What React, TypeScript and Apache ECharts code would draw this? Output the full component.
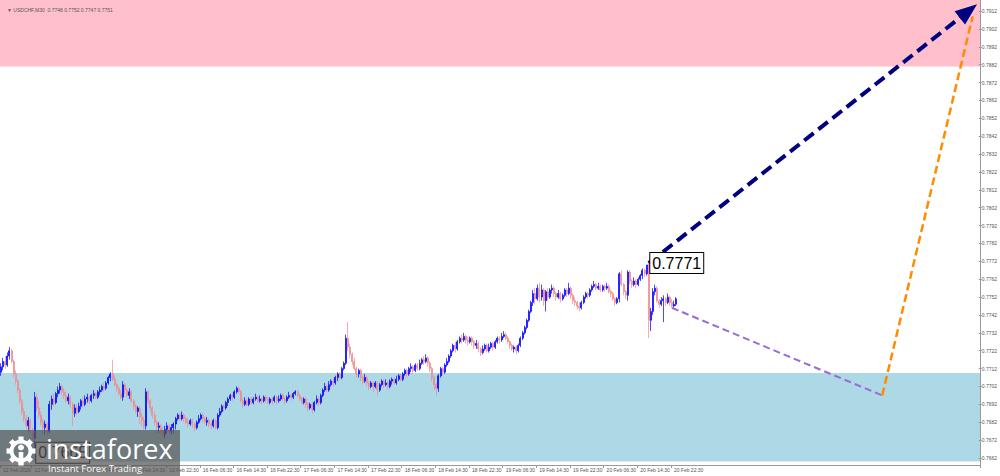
import React, { useEffect, useRef } from "react";
import * as echarts from "echarts";

// ---- categories (M30 bars) ----
const YEAR = "2026";
const DAYS = ["12 Feb", "13 Feb", "16 Feb", "17 Feb", "18 Feb", "19 Feb", "20 Feb"];
const FIRST_DAY_START_SLOT = 14; // 12 Feb starts at 07:00
const FUTURE_SLOTS = 144;
const SYMBOL = "USDCHF,M30";

// ---- candles: [open, close, low, high] in 1/10000 ----
const feb12 = [
  [7710, 7713, 7708, 7715], [7713, 7716, 7711, 7718], [7716, 7714, 7712, 7719], [7714, 7719, 7713, 7721],
  [7719, 7722, 7717, 7724], [7722, 7716, 7715, 7723], [7716, 7709, 7707, 7717], [7709, 7705, 7703, 7711],
  [7705, 7700, 7698, 7706], [7700, 7694, 7692, 7701], [7694, 7688, 7686, 7695], [7688, 7684, 7682, 7690],
  [7684, 7680, 7678, 7686], [7680, 7683, 7677, 7685], [7683, 7677, 7675, 7684], [7677, 7673, 7670, 7679],
  [7673, 7696, 7665, 7699], [7696, 7690, 7688, 7698], [7690, 7686, 7684, 7694], [7686, 7682, 7680, 7688],
  [7682, 7679, 7676, 7684], [7679, 7681, 7675, 7683], [7681, 7677, 7674, 7682], [7677, 7692, 7676, 7694],
  [7692, 7695, 7689, 7697], [7695, 7693, 7691, 7698], [7693, 7698, 7692, 7699], [7698, 7700, 7696, 7702],
  [7700, 7702, 7698, 7704], [7702, 7699, 7697, 7703], [7699, 7697, 7695, 7701], [7697, 7694, 7693, 7699],
  [7694, 7696, 7692, 7698], [7696, 7692, 7690, 7697],
];
const feb13 = [
  [7692, 7687, 7680, 7693], [7687, 7690, 7685, 7692], [7690, 7688, 7686, 7692], [7688, 7691, 7687, 7693],
  [7691, 7694, 7689, 7695], [7694, 7692, 7690, 7696], [7692, 7695, 7691, 7697], [7695, 7696, 7693, 7698],
  [7696, 7694, 7692, 7697], [7694, 7697, 7693, 7698], [7697, 7698, 7695, 7700], [7698, 7696, 7695, 7699],
  [7696, 7699, 7695, 7700], [7699, 7700, 7697, 7702], [7700, 7702, 7699, 7703], [7702, 7701, 7699, 7704],
  [7701, 7704, 7700, 7705], [7704, 7707, 7703, 7708], [7707, 7709, 7705, 7710], [7709, 7706, 7705, 7717],
  [7706, 7703, 7702, 7708], [7703, 7701, 7699, 7704], [7701, 7698, 7697, 7702], [7698, 7696, 7695, 7700],
  [7696, 7703, 7694, 7705], [7703, 7700, 7698, 7704], [7700, 7697, 7696, 7701], [7697, 7699, 7695, 7701],
  [7699, 7694, 7693, 7700], [7694, 7691, 7689, 7695], [7691, 7688, 7687, 7692], [7688, 7690, 7685, 7691],
  [7690, 7685, 7681, 7691], [7685, 7683, 7680, 7687], [7683, 7680, 7678, 7685], [7680, 7699, 7678, 7701],
  [7699, 7694, 7692, 7700], [7694, 7690, 7688, 7695], [7690, 7686, 7684, 7691], [7686, 7682, 7680, 7688],
  [7682, 7679, 7677, 7683], [7679, 7680, 7676, 7682], [7680, 7677, 7675, 7681], [7677, 7675, 7673, 7679],
  [7675, 7678, 7673, 7680], [7678, 7680, 7676, 7682], [7680, 7677, 7675, 7681], [7677, 7679, 7675, 7681],
];
const feb16 = [
  [7679, 7681, 7676, 7682], [7681, 7684, 7678, 7685], [7684, 7686, 7683, 7687], [7686, 7684, 7683, 7687],
  [7684, 7686, 7683, 7688], [7686, 7684, 7682, 7687], [7684, 7682, 7681, 7685], [7682, 7681, 7679, 7684],
  [7681, 7683, 7680, 7684], [7683, 7681, 7679, 7684], [7681, 7679, 7677, 7682], [7679, 7682, 7678, 7683],
  [7682, 7684, 7681, 7686], [7684, 7686, 7683, 7687], [7686, 7684, 7682, 7687], [7684, 7682, 7681, 7685],
  [7682, 7683, 7680, 7685], [7683, 7681, 7679, 7684], [7681, 7680, 7678, 7682], [7680, 7683, 7679, 7684],
  [7683, 7679, 7678, 7684], [7679, 7686, 7678, 7687], [7686, 7688, 7685, 7690], [7688, 7691, 7687, 7692],
  [7691, 7690, 7688, 7692], [7690, 7693, 7689, 7694], [7693, 7695, 7691, 7696], [7695, 7697, 7694, 7698],
  [7697, 7696, 7694, 7698], [7696, 7699, 7695, 7700], [7699, 7701, 7698, 7702], [7701, 7699, 7698, 7702],
  [7699, 7694, 7693, 7700], [7694, 7692, 7690, 7695], [7692, 7694, 7691, 7696], [7694, 7692, 7691, 7695],
  [7692, 7695, 7691, 7696], [7695, 7693, 7692, 7696], [7693, 7695, 7692, 7696], [7695, 7696, 7694, 7698],
  [7696, 7694, 7693, 7697], [7694, 7695, 7693, 7697], [7695, 7694, 7692, 7696], [7694, 7696, 7693, 7697],
  [7696, 7695, 7693, 7697], [7695, 7693, 7692, 7696], [7693, 7695, 7692, 7696], [7695, 7694, 7692, 7696],
];
const feb17 = [
  [7694, 7696, 7693, 7697], [7696, 7694, 7692, 7697], [7694, 7695, 7693, 7697], [7695, 7697, 7694, 7698],
  [7697, 7695, 7694, 7698], [7695, 7694, 7692, 7696], [7694, 7696, 7693, 7697], [7696, 7697, 7695, 7699],
  [7697, 7696, 7694, 7698], [7696, 7698, 7695, 7699], [7698, 7699, 7697, 7700], [7699, 7697, 7696, 7700],
  [7697, 7695, 7694, 7698], [7695, 7693, 7692, 7696], [7693, 7695, 7692, 7696], [7695, 7692, 7690, 7696],
  [7692, 7690, 7688, 7693], [7690, 7692, 7689, 7693], [7692, 7689, 7687, 7693], [7689, 7693, 7688, 7694],
  [7693, 7695, 7692, 7697], [7695, 7693, 7691, 7696], [7693, 7697, 7692, 7698], [7697, 7700, 7696, 7701],
  [7700, 7702, 7699, 7704], [7702, 7700, 7699, 7703], [7700, 7703, 7699, 7705], [7703, 7705, 7702, 7706],
  [7705, 7704, 7702, 7707], [7704, 7707, 7703, 7708], [7707, 7709, 7705, 7710], [7709, 7707, 7706, 7710],
  [7707, 7712, 7706, 7713], [7712, 7715, 7711, 7716], [7715, 7729, 7714, 7731], [7729, 7724, 7722, 7738],
  [7724, 7720, 7718, 7726], [7720, 7716, 7714, 7721], [7716, 7712, 7711, 7718], [7712, 7709, 7707, 7713],
  [7709, 7711, 7707, 7712], [7711, 7707, 7705, 7712], [7707, 7705, 7703, 7708], [7705, 7707, 7704, 7709],
  [7707, 7704, 7702, 7708], [7704, 7702, 7700, 7705], [7702, 7704, 7701, 7705], [7704, 7702, 7699, 7705],
];
const feb18 = [
  [7702, 7704, 7701, 7705], [7704, 7700, 7697, 7705], [7700, 7703, 7699, 7704], [7703, 7705, 7702, 7706],
  [7705, 7703, 7701, 7706], [7703, 7704, 7702, 7706], [7704, 7702, 7700, 7705], [7702, 7705, 7701, 7706],
  [7705, 7706, 7703, 7707], [7706, 7704, 7703, 7707], [7704, 7706, 7703, 7708], [7706, 7708, 7705, 7709],
  [7708, 7706, 7705, 7709], [7706, 7709, 7705, 7710], [7709, 7711, 7708, 7712], [7711, 7709, 7707, 7712],
  [7709, 7712, 7708, 7713], [7712, 7713, 7710, 7715], [7713, 7711, 7709, 7714], [7711, 7714, 7710, 7715],
  [7714, 7712, 7711, 7715], [7712, 7715, 7711, 7717], [7715, 7717, 7714, 7718], [7717, 7716, 7714, 7719],
  [7716, 7718, 7715, 7720], [7718, 7715, 7713, 7719], [7715, 7712, 7710, 7716], [7712, 7707, 7705, 7713],
  [7707, 7703, 7700, 7708], [7703, 7701, 7697, 7704], [7701, 7708, 7699, 7709], [7708, 7712, 7707, 7713],
  [7712, 7710, 7708, 7713], [7710, 7714, 7709, 7715], [7714, 7716, 7713, 7718], [7716, 7719, 7715, 7720],
  [7719, 7722, 7718, 7723], [7722, 7725, 7721, 7726], [7725, 7723, 7721, 7727], [7723, 7727, 7722, 7728],
  [7727, 7729, 7726, 7730], [7729, 7728, 7726, 7731], [7728, 7730, 7727, 7732], [7730, 7728, 7726, 7731],
  [7728, 7727, 7725, 7730], [7727, 7729, 7726, 7730], [7729, 7727, 7725, 7730], [7727, 7725, 7723, 7728],
];
const feb19 = [
  [7725, 7726, 7723, 7728], [7726, 7723, 7721, 7727], [7723, 7721, 7719, 7724], [7721, 7723, 7720, 7725],
  [7723, 7725, 7722, 7726], [7725, 7722, 7721, 7726], [7722, 7724, 7721, 7726], [7724, 7726, 7723, 7727],
  [7726, 7724, 7722, 7727], [7724, 7727, 7723, 7728], [7727, 7729, 7726, 7730], [7729, 7728, 7726, 7730],
  [7728, 7730, 7727, 7732], [7730, 7731, 7729, 7733], [7731, 7729, 7728, 7732], [7729, 7727, 7726, 7730],
  [7727, 7725, 7723, 7728], [7725, 7723, 7722, 7726], [7723, 7724, 7721, 7725], [7724, 7722, 7720, 7725],
  [7722, 7725, 7721, 7726], [7725, 7729, 7724, 7730], [7729, 7732, 7728, 7733], [7732, 7735, 7731, 7736],
  [7735, 7739, 7734, 7740], [7739, 7744, 7738, 7745], [7744, 7749, 7743, 7750], [7749, 7754, 7747, 7756],
  [7754, 7751, 7748, 7757], [7751, 7757, 7750, 7759], [7757, 7752, 7749, 7760], [7752, 7756, 7750, 7759],
  [7756, 7750, 7747, 7757], [7750, 7755, 7744, 7756], [7755, 7752, 7750, 7757], [7752, 7756, 7751, 7757],
  [7756, 7757, 7754, 7759], [7757, 7754, 7752, 7758], [7754, 7752, 7750, 7755], [7752, 7754, 7751, 7756],
  [7754, 7751, 7749, 7755], [7751, 7753, 7750, 7754], [7753, 7756, 7752, 7757], [7756, 7754, 7752, 7757],
  [7754, 7757, 7753, 7760], [7757, 7753, 7751, 7758], [7753, 7750, 7748, 7754], [7750, 7749, 7747, 7752],
];
const feb20 = [
  [7749, 7747, 7745, 7750], [7747, 7746, 7744, 7749], [7746, 7749, 7745, 7750], [7749, 7752, 7748, 7753],
  [7752, 7754, 7751, 7755], [7754, 7753, 7751, 7755], [7753, 7756, 7752, 7757], [7756, 7758, 7755, 7759],
  [7758, 7759, 7757, 7761], [7759, 7757, 7756, 7760], [7757, 7758, 7756, 7760], [7758, 7756, 7755, 7759],
  [7756, 7758, 7755, 7759], [7758, 7757, 7755, 7759], [7757, 7758, 7756, 7760], [7758, 7755, 7754, 7759],
  [7755, 7754, 7752, 7756], [7754, 7751, 7750, 7755], [7751, 7749, 7747, 7752], [7749, 7751, 7748, 7752],
  [7751, 7765, 7749, 7766], [7765, 7759, 7758, 7767], [7759, 7755, 7753, 7760], [7755, 7753, 7751, 7756],
  [7753, 7766, 7750, 7767], [7766, 7761, 7759, 7767], [7761, 7759, 7757, 7762], [7759, 7761, 7758, 7763],
  [7761, 7759, 7757, 7762], [7759, 7762, 7758, 7763], [7762, 7764, 7761, 7765], [7764, 7767, 7762, 7768],
  [7767, 7765, 7763, 7768], [7765, 7770, 7764, 7770], [7770, 7739, 7729, 7771], [7739, 7744, 7733, 7746],
  [7744, 7755, 7742, 7757], [7755, 7757, 7753, 7759], [7757, 7750, 7749, 7758], [7750, 7748, 7746, 7751],
  [7748, 7750, 7747, 7752], [7750, 7751, 7738, 7753], [7751, 7749, 7747, 7752], [7749, 7752, 7748, 7754],
  [7752, 7749, 7747, 7753], [7749, 7747, 7746, 7751], [7747, 7748, 7746, 7750], [7748, 7751, 7747, 7752],
];
const DAY_CANDLES = [feb12, feb13, feb16, feb17, feb18, feb19, feb20];

// ---- annotations (category index, price) ----
const HIGH_MARK = { idx: 308, price: 0.7771 };
const LOW_MARK = { idx: 16, price: 0.7665 };
const BULL_ARROW = [[308, 0.7771], [460, 0.7912]];
const BEAR_LEG = [[319, 0.7746], [419, 0.7697]];
const RETURN_LEG = [[419, 0.7697], [462, 0.7909]];
const SELL_ZONE = [0.7881, 0.791815];
const BUY_ZONE = [0.766, 0.77095];
const PRICE_TAGS = [
  { price: 0.7754, bg: "#000000" },
  { price: 0.7751, bg: "#8c8c8c" },
];

// ---- axis ----
const Y_MIN = 0.765809;
const Y_MAX = 0.791815;
const TICK_MIN = 0.7662;
const TICK_MAX = 0.7912;
const TICK_STEP = 0.001;

const FONT = "'Liberation Sans', Arial, sans-serif";

function pad(n: number) {
  return n < 10 ? "0" + n : "" + n;
}
const HALF_HOURS = Array.from({ length: 48 }, (_, k) => `${pad(Math.floor(k / 2))}:${k % 2 ? "30" : "00"}`);

function buildCategories() {
  const cats: string[] = [];
  DAYS.forEach((d, di) => {
    const start = di === 0 ? FIRST_DAY_START_SLOT : 0;
    for (let k = start; k < 48; k++) cats.push(`${d} ${HALF_HOURS[k]}`);
  });
  for (let i = 0; i < FUTURE_SLOTS; i++) cats.push("");
  return cats;
}

export default function App() {
  const ref = useRef<HTMLDivElement>(null);

  useEffect(() => {
    if (!ref.current) return;
    const chart = echarts.init(ref.current, null, { renderer: "svg" });
    const categories = buildCategories();
    const candles = ([] as number[][]).concat(...DAY_CANDLES).map((r) => r.map((v) => v / 10000));
    const last = candles[candles.length - 1];
    const header = `▼ ${SYMBOL}  ${last[0].toFixed(4)} ${last[3].toFixed(4)} ${last[2].toFixed(4)} ${last[1].toFixed(4)}`;

    const isLabelSlot = (i: number, v: string) => i === 0 || /(06|14|22):30$/.test(v);

    const teeth = Array.from({ length: 8 }, (_, k) => ({
      type: "rect",
      shape: { x: -2.6, y: -14.5, width: 5.2, height: 6 },
      rotation: (k * Math.PI) / 4,
      style: { fill: "#ffffff" },
      z: 102,
    }));

    const option: any = {
      animation: false,
      backgroundColor: "#ffffff",
      title: {
        text: header,
        left: 2,
        top: 2,
        textStyle: { fontSize: 5, fontWeight: "normal", color: "#555", fontFamily: FONT },
      },
      grid: [
        { left: 0, right: 20, top: 0, bottom: 11 },
        { left: 0, right: 20, top: 11, bottom: 18 },
      ],
      xAxis: [
        {
          type: "category",
          gridIndex: 0,
          data: categories,
          boundaryGap: true,
          axisLine: { onZero: false, lineStyle: { color: "#999", width: 1 } },
          axisTick: { show: true, length: 3, interval: isLabelSlot, lineStyle: { color: "#999" } },
          axisLabel: {
            show: true,
            interval: isLabelSlot,
            fontSize: 5,
            color: "#555",
            fontFamily: FONT,
            align: "left",
            margin: 2,
            padding: [0, 0, 0, 2],
            formatter: (v: string, i: number) => (i === 0 ? `${v.slice(0, 6)} ${YEAR}` : v),
          },
          splitLine: { show: false },
        },
        { type: "value", gridIndex: 1, show: false, min: 0, max: 1 },
      ],
      yAxis: [
        {
          type: "value",
          gridIndex: 0,
          position: "right",
          min: Y_MIN,
          max: Y_MAX,
          axisLine: { show: true, onZero: false, lineStyle: { color: "#999", width: 1 } },
          axisTick: { show: false },
          axisLabel: { show: false },
          splitLine: { show: false },
        },
        {
          type: "value",
          gridIndex: 1,
          position: "right",
          min: TICK_MIN,
          max: TICK_MAX,
          interval: TICK_STEP,
          axisLine: { show: false, onZero: false },
          axisTick: { show: true, length: 3, lineStyle: { color: "#999" } },
          axisLabel: {
            show: true,
            fontSize: 5,
            color: "#555",
            fontFamily: FONT,
            margin: 3,
            formatter: (v: number) => v.toFixed(4),
          },
          splitLine: { show: false },
        },
      ],
      series: [
        {
          type: "candlestick",
          xAxisIndex: 0,
          yAxisIndex: 0,
          data: candles,
          barWidth: 1.5,
          itemStyle: {
            color: "#0000ff",
            color0: "#f4888a",
            borderColor: "#0000ff",
            borderColor0: "#f4888a",
            borderWidth: 0.7,
          },
          markArea: {
            silent: true,
            z: 0,
            data: [
              [{ yAxis: SELL_ZONE[0], itemStyle: { color: "#ffc0cb" } }, { yAxis: SELL_ZONE[1] }],
              [{ yAxis: BUY_ZONE[0], itemStyle: { color: "#add8e6" } }, { yAxis: BUY_ZONE[1] }],
            ],
          },
          markPoint: {
            silent: true,
            symbol: "rect",
            symbolSize: 1,
            itemStyle: { color: "rgba(0,0,0,0)" },
            label: {
              show: true,
              position: "right",
              distance: 1,
              formatter: "{b}",
              fontSize: 16,
              lineHeight: 16,
              fontFamily: FONT,
              color: "#000",
              backgroundColor: "#ffffff",
              borderColor: "#000000",
              borderWidth: 1,
              padding: [2, 2, 2, 2],
            },
            data: [
              { name: HIGH_MARK.price.toFixed(4), coord: [HIGH_MARK.idx, HIGH_MARK.price] },
              { name: LOW_MARK.price.toFixed(4), coord: [LOW_MARK.idx, LOW_MARK.price] },
            ],
          },
          markLine: {
            silent: true,
            symbol: ["none", "none"],
            lineStyle: { opacity: 0 },
            label: {
              show: true,
              position: "end",
              distance: 2,
              fontSize: 5,
              fontFamily: FONT,
              color: "#fff",
              padding: [1, 1, 0.5, 1],
            },
            data: PRICE_TAGS.map((t) => ({
              yAxis: t.price,
              label: { backgroundColor: t.bg, formatter: t.price.toFixed(4) },
            })),
          },
        },
        {
          type: "line",
          xAxisIndex: 0,
          yAxisIndex: 0,
          data: [],
          markLine: {
            silent: true,
            symbol: ["none", "triangle"],
            symbolSize: [17, 22],
            label: { show: false },
            lineStyle: { color: "#000080", width: 4, type: [12, 6] },
            itemStyle: { color: "#000080" },
            data: [[{ coord: BULL_ARROW[0] }, { coord: BULL_ARROW[1] }]],
          },
        },
        {
          type: "line",
          xAxisIndex: 0,
          yAxisIndex: 0,
          data: [],
          markLine: {
            silent: true,
            symbol: ["none", "none"],
            label: { show: false },
            data: [
              [
                { coord: BEAR_LEG[0], lineStyle: { color: "#9a6bd6", width: 2, type: [7, 4] } },
                { coord: BEAR_LEG[1] },
              ],
              [
                { coord: RETURN_LEG[0], lineStyle: { color: "#ff8c00", width: 2.5, type: [8, 4] } },
                { coord: RETURN_LEG[1] },
              ],
            ],
          },
        },
      ],
      graphic: [
        {
          type: "rect",
          shape: { x: 0, y: 430, width: 180, height: 46 },
          style: { fill: "rgba(85,85,85,0.72)" },
          z: 100,
        },
        {
          type: "group",
          x: 21,
          y: 451,
          z: 101,
          children: [
            ...teeth,
            { type: "ring", shape: { cx: 0, cy: 0, r: 11.5, r0: 7.5 }, style: { fill: "#ffffff" }, z: 102 },
            { type: "circle", shape: { cx: 0, cy: -3.5, r: 3 }, style: { fill: "#ffffff" }, z: 102 },
            { type: "rect", shape: { x: -2.3, y: 1, width: 4.6, height: 13 }, style: { fill: "#ffffff" }, z: 102 },
          ],
        },
        {
          type: "text",
          x: 46,
          y: 448,
          z: 102,
          style: {
            text: "instaforex",
            fill: "#ffffff",
            fontSize: 27,
            fontFamily: "'Open Sans', sans-serif",
            textVerticalAlign: "middle",
          },
        },
        {
          type: "text",
          x: 48,
          y: 468,
          z: 102,
          style: {
            text: "Instant Forex Trading",
            fill: "#ffffff",
            fontSize: 9.5,
            fontFamily: "'Open Sans', sans-serif",
            textVerticalAlign: "middle",
          },
        },
      ],
    };

    chart.setOption(option);
    return () => chart.dispose();
  }, []);

  return (
    <div
      ref={ref}
      style={{ position: "absolute", left: 0, top: 0, width: 1000, height: 476, background: "#fff" }}
    />
  );
}
